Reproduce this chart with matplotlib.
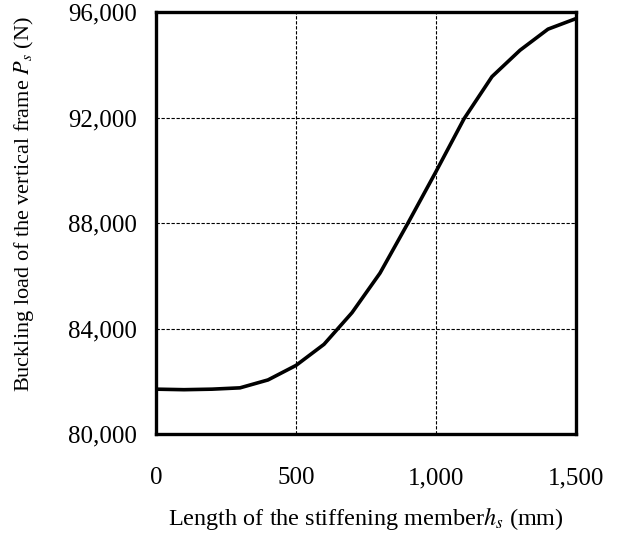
import matplotlib
matplotlib.use("Agg")
import matplotlib.pyplot as plt
from matplotlib.ticker import FuncFormatter

# data
length_mm = [0, 100, 200, 300, 400, 500, 600, 700, 800, 900, 1000, 1100, 1200, 1300, 1400, 1500]
buckling_load = [81700, 81680, 81700, 81750, 82050, 82600, 83400, 84600, 86100, 88000, 89950,
                 91950, 93550, 94550, 95350, 95750]

x_ticks = [0, 500, 1000, 1500]
y_ticks = [80000, 84000, 88000, 92000, 96000]

plt.rcParams.update({
    "font.family": "serif",
    "font.serif": ["Liberation Serif", "DejaVu Serif"],
    "mathtext.fontset": "stix",
})

fig = plt.figure(figsize=(6.19, 5.37), dpi=100)
ax = fig.add_axes([156 / 619, 1 - 434 / 537, 420 / 619, 422 / 537])

ax.plot(length_mm, buckling_load, color="black", lw=2.6, solid_joinstyle="miter", zorder=3)

ax.set_xlim(0, 1500)
ax.set_ylim(80000, 96000)
ax.set_xticks(x_ticks)
ax.set_yticks(y_ticks)
fmt = FuncFormatter(lambda v, p: f"{int(v):,}")
ax.xaxis.set_major_formatter(fmt)
ax.yaxis.set_major_formatter(fmt)
ax.tick_params(length=0, labelsize=18)
ax.tick_params(axis="y", pad=14)
ax.tick_params(axis="x", pad=24)

ax.grid(True, color="black", ls=(0, (3, 1.5)), lw=0.8)
for s in ax.spines.values():
    s.set_linewidth(2.4)

ax.set_xlabel(r"Length of the stiffening member$h_s$ (mm)", fontsize=17.5, labelpad=11)
ax.set_ylabel(r"Buckling load of the vertical frame $P_s$ (N)", fontsize=16)
ax.yaxis.set_label_coords(-0.285, 0.545)

fig.savefig("out.png", dpi=100)
